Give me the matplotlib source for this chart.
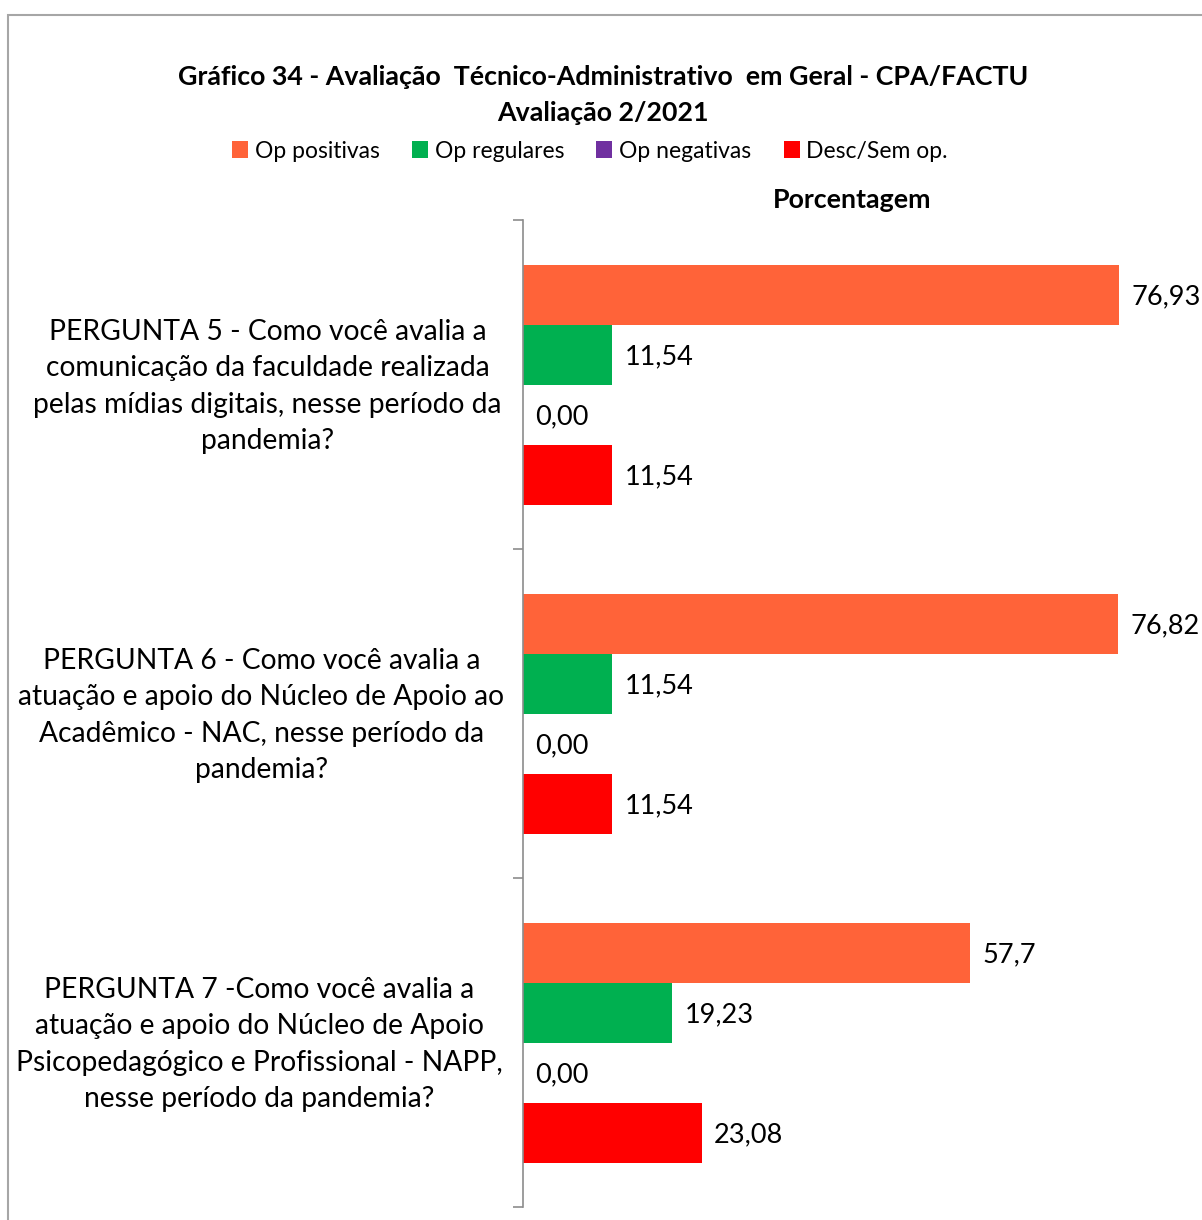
import matplotlib
matplotlib.use("Agg")
import matplotlib.pyplot as plt
from matplotlib.patches import Rectangle, Patch
from matplotlib.transforms import ScaledTranslation
import numpy as np

plt.rcParams['font.family'] = ['Lato', 'DejaVu Sans']

questions = [
    "PERGUNTA 5 - Como você avalia a\ncomunicação da faculdade realizada\npelas mídias digitais, nesse período da\npandemia?",
    "PERGUNTA 6 - Como você avalia a\natuação e apoio do Núcleo de Apoio ao\nAcadêmico - NAC, nesse período da\npandemia?",
    "PERGUNTA 7 -Como você avalia a\natuação e apoio do Núcleo de Apoio\nPsicopedagógico e Profissional - NAPP,\nnesse período da pandemia?",
]
series_names = ["Op positivas", "Op regulares", "Op negativas", "Desc/Sem op."]
op_positivas = [76.93, 76.82, 57.7]
op_regulares = [11.54, 11.54, 19.23]
op_negativas = [0.00, 0.00, 0.00]
desc_sem_op = [11.54, 11.54, 23.08]
# decimal places shown in each series' labels, per question
decimals = [[2, 2, 1], [2, 2, 2], [2, 2, 2], [2, 2, 2]]
colors = ["#FF6339", "#00B050", "#7030A0", "#FF0000"]

series = [op_positivas, op_regulares, op_negativas, desc_sem_op]

W, H = 1202, 1220
fig = plt.figure(figsize=(W / 100, H / 100), dpi=100)

# chart frame (open to the right and bottom)
fig.add_artist(Rectangle((8 / W, -0.05), 1.1, (H - 15) / H + 0.05,
                         transform=fig.transFigure, fill=False,
                         edgecolor="#A6A6A6", linewidth=1.5, clip_on=False))

ax = fig.add_axes([523 / W, 1 - 1207 / H, (1181 - 523) / W, (1207 - 220) / H])

n = len(series)
h = 60 / 329
y = np.arange(len(questions))
for i, (vals, col) in enumerate(zip(series, colors)):
    offs = (i - (n - 1) / 2) * h
    bars = ax.barh(y + offs, vals, height=h, color=col, label=series_names[i])
    for b, v, d in zip(bars, vals, decimals[i]):
        txt = f"{v:.{d}f}".replace(".", ",")
        ax.annotate(txt, (v, b.get_y() + b.get_height() / 2),
                    xytext=(9, -2), textcoords="offset points",
                    ha="left", va="center", fontsize=19.5, color="black",
                    annotation_clip=False)

ax.set_xlim(0, 85)
ax.set_ylim(len(questions) - 0.5, -0.5)
ax.set_yticks(np.arange(len(questions) + 1) - 0.5, minor=False)
ax.set_yticklabels([])
ax.set_yticks(y, minor=True)
ax.tick_params(axis="y", which="major", length=7, width=1.2, color="#8C8C8C")
ax.tick_params(axis="y", which="minor", length=0, pad=184)
ax.set_yticklabels(questions, minor=True, fontsize=20.3, ha="center",
                   multialignment="center", linespacing=1.5)
# small shifts of the category captions
shifts_px = [(0, 6), (-6, 6), (-8, 6)]
for lab, (dx, dy) in zip(ax.get_yticklabels(minor=True), shifts_px):
    lab.set_transform(lab.get_transform() +
                      ScaledTranslation(dx / 100, dy / 100, fig.dpi_scale_trans))
ax.set_xticks([])
for s in ["top", "right", "bottom"]:
    ax.spines[s].set_visible(False)
ax.spines["left"].set_color("#8C8C8C")
ax.spines["left"].set_linewidth(1.2)

fig.text(603 / W, 1 - 77 / H,
         "Gráfico 34 - Avaliação  Técnico-Administrativo  em Geral - CPA/FACTU",
         ha="center", va="center", fontsize=19.3, fontweight="bold")
fig.text(603 / W, 1 - 113 / H, "Avaliação 2/2021",
         ha="center", va="center", fontsize=19.3, fontweight="bold")
fig.text(852 / W, 1 - 200 / H, "Porcentagem",
         ha="center", va="center", fontsize=19.3, fontweight="bold")

handles = [Patch(facecolor=c, edgecolor="none") for c in colors]
fig.legend(handles, series_names, loc="center", ncol=4,
           bbox_to_anchor=(590 / W, 1 - 151 / H), frameon=False,
           fontsize=16.5, handlelength=0.7, handleheight=0.7,
           handletextpad=0.3, columnspacing=1.4)

fig.savefig("out.png", dpi=100)
